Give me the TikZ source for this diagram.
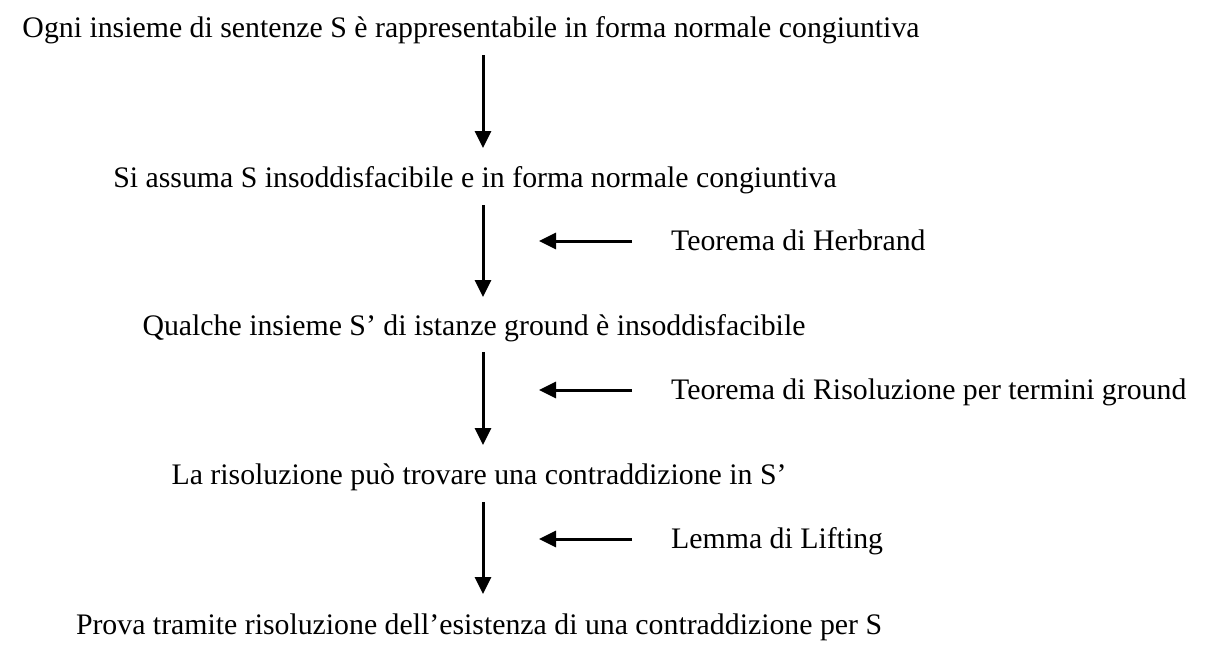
\documentclass[tikz,border=0pt]{standalone}
\usepackage{fontspec}
\setmainfont{Liberation Serif}
\usetikzlibrary{arrows.meta}
\begin{document}
\begin{tikzpicture}[x=1pt,y=-1pt,
  txt/.style={inner sep=0pt, anchor=base, font=\fontsize{29.8}{32}\selectfont},
  lbl/.style={inner sep=0pt, anchor=base west, font=\fontsize{29.8}{32}\selectfont},
  arr/.style={line width=3pt, -{Triangle[length=17pt,width=16pt]}}]
\useasboundingbox (0,0) rectangle (1218,664);
\node[txt] (n1) at (471,37) {Ogni insieme di sentenze S è rappresentabile in forma normale congiuntiva};
\node[txt] (n2) at (475,187) {Si assuma S insoddisfacibile e in forma normale congiuntiva};
\node[txt] (n3) at (474,335) {Qualche insieme S’ di istanze ground è insoddisfacibile};
\node[txt] (n4) at (479,484) {La risoluzione può trovare una contraddizione in S’};
\node[txt] (n5) at (479,634) {Prova tramite risoluzione dell’esistenza di una contraddizione per S};
\node[lbl] (l1) at (671,250) {Teorema di Herbrand};
\node[lbl] (l2) at (671,399) {Teorema di Risoluzione per termini ground};
\node[lbl] (l3) at (671,548) {Lemma di Lifting};
\coordinate (a1s) at (483,55);  \coordinate (a1e) at (483,148);
\coordinate (a2s) at (483,205); \coordinate (a2e) at (483,297);
\coordinate (a3s) at (483,352); \coordinate (a3e) at (483,445);
\coordinate (a4s) at (483,502); \coordinate (a4e) at (483,594);
\draw[arr] (a1s) -- (a1e);
\draw[arr] (a2s) -- (a2e);
\draw[arr] (a3s) -- (a3e);
\draw[arr] (a4s) -- (a4e);
\coordinate (h1) at (632,241); \coordinate (h2) at (632,390); \coordinate (h3) at (632,539);
\draw[arr] (h1) -- (539,241);
\draw[arr] (h2) -- (539,390);
\draw[arr] (h3) -- (539,539);
\end{tikzpicture}
\end{document}
